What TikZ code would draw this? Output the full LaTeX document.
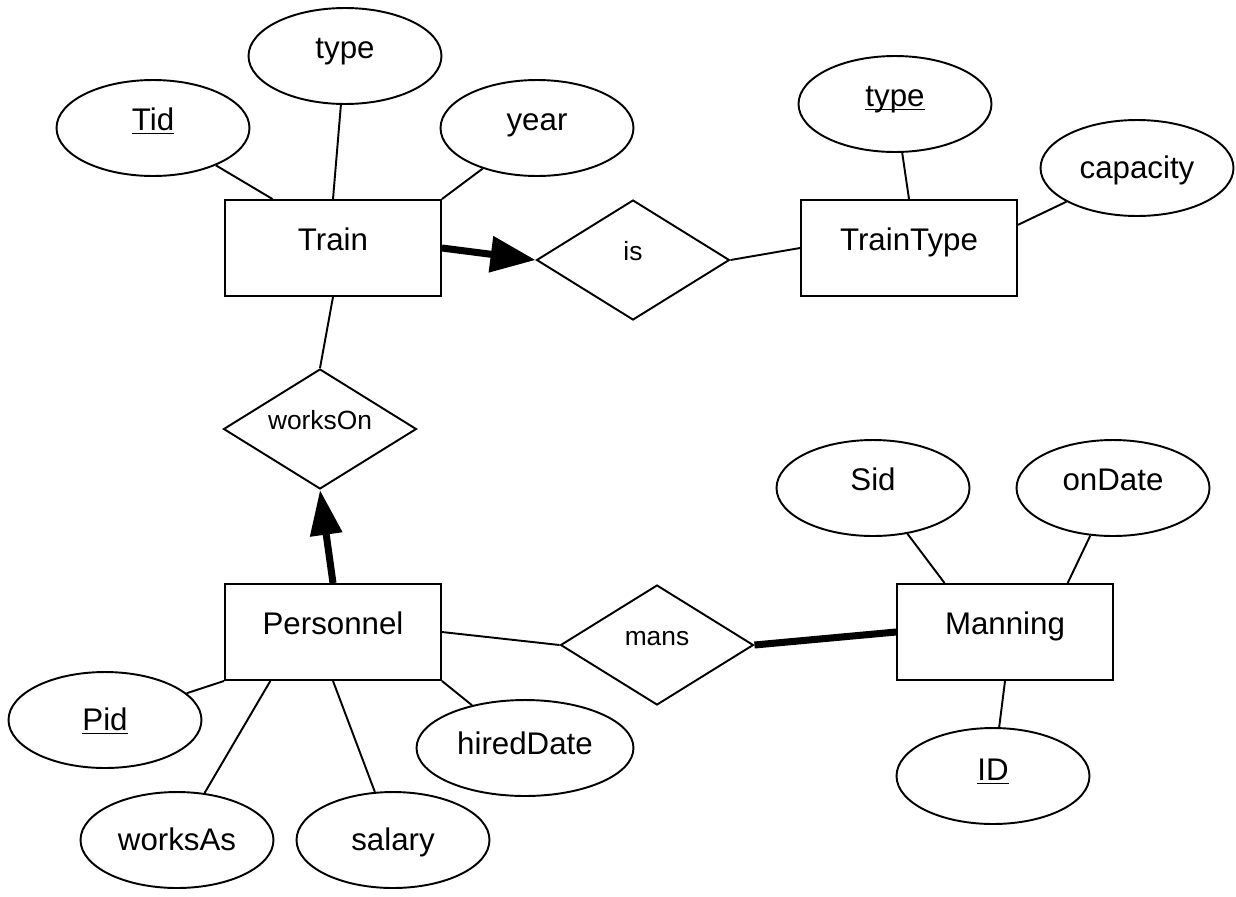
\documentclass[tikz,border=0pt]{standalone}
\usepackage{fontspec}
\setmainfont{Liberation Sans}
\usetikzlibrary{shapes.geometric,arrows.meta}
% key attributes are underlined
\newcommand{\keyul}[1]{\setbox0\hbox{#1}\rlap{\rule[-2pt]{\wd0}{1pt}}\box0}

\begin{document}
\begin{tikzpicture}[x=0.02cm,y=-0.02cm,line width=1.1pt,
    entity/.style={draw,rectangle,minimum width=4.32cm,minimum height=1.92cm,inner sep=0pt,
        font=\fontsize{17.8}{20}\selectfont,text height=0.45cm,text depth=0.34cm},
    attr/.style={draw,ellipse,minimum width=3.86cm,minimum height=1.92cm,inner sep=0pt,
        font=\fontsize{17.8}{20}\selectfont,text height=0.45cm,text depth=0.34cm},
    centred/.style={text height=0.6cm,text depth=0.17cm},
    halfway/.style={text height=0.52cm,text depth=0.25cm},
    rel/.style={draw,diamond,aspect=1.6,minimum width=3.86cm,minimum height=2.4cm,inner sep=0pt,
        font=\fontsize{15}{18}\selectfont,text height=0.3cm,text depth=0.3cm},
    heavy/.style={line width=4pt}]
    \useasboundingbox (0,0) rectangle (1236,896);

    % entities
    \node[entity] (train) at (333,248) {Train};
    \node[entity] (traintype) at (909,248) {TrainType};
    \node[entity] (personnel) at (333,632) {Personnel};
    \node[entity] (manning) at (1005,632) {Manning};

    % relationships
    \node[rel] (is) at (633,260) {is};
    \node[rel] (workson) at (320,429) {worksOn};
    \node[rel] (mans) at (657,645) {mans};

    % attributes
    \node[attr] (tid) at (153,128) {\keyul{Tid}};
    \node[attr] (ttype) at (345,56) {type};
    \node[attr] (year) at (537,128) {year};
    \node[attr] (typekey) at (895,104) {\keyul{type}};
    \node[attr,centred] (capacity) at (1137,168) {capacity};
    \node[attr] (sid) at (873,488) {Sid};
    \node[attr] (ondate) at (1113,488) {onDate};
    \node[attr,text height=0.48cm,text depth=0.29cm] (id) at (993,776) {\keyul{ID}};
    \node[attr,centred] (pid) at (105,720) {\keyul{Pid}};
    \node[attr,centred] (worksas) at (177,840) {worksAs};
    \node[attr,centred] (salary) at (393,840) {salary};
    \node[attr,halfway,minimum width=4.34cm] (hired) at (525,748) {hiredDate};

    % attribute links
    \draw (tid) -- (train.141.8);
    \draw (ttype) -- (train.north);
    \draw (year) -- (train.north east);
    \draw (typekey) -- (traintype.north);
    \draw (capacity) -- (traintype.12.5);
    \draw (sid) -- (manning.141.3);
    \draw (ondate) -- (manning.38.2);
    \draw (id) -- (manning.south);
    \draw (pid) -- (personnel.south west);
    \draw (worksas) -- (personnel.218.2);
    \draw (salary) -- (personnel.south);
    \draw (hired) -- (personnel.south east);

    % relationship links
    \draw[heavy,-{Triangle[length=0.9cm,width=0.7cm]}] (train.east) -- (is.west);
    \draw (is.east) -- (traintype.west);
    \draw (train.south) -- (workson.north);
    \draw[heavy,-{Triangle[length=0.9cm,width=0.62cm]}] (personnel.north) -- (workson.south);
    \draw (personnel.east) -- (mans.west);
    \draw[heavy] (mans.east) -- (manning.west);
\end{tikzpicture}
\end{document}
